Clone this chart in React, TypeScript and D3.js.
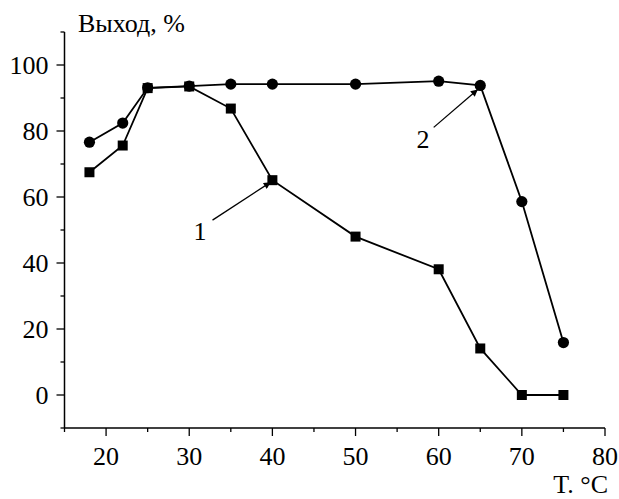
import * as d3 from 'd3';

// temperature, °C
const temps = [18, 22, 25, 30, 35, 40, 50, 60, 65, 70, 75];
// curve 1 (squares), yield %
const yield1 = [67.5, 75.6, 93, 93.5, 86.8, 65.1, 48, 38.1, 14.1, 0, 0];
// curve 2 (circles), yield %
const yield2 = [76.6, 82.4, 93.1, 93.6, 94.2, 94.2, 94.2, 95.1, 93.8, 58.6, 15.9];

const xMajor = [20, 30, 40, 50, 60, 70, 80];
const xMinor = [15, 25, 35, 45, 55, 65, 75];
const yMajor = [0, 20, 40, 60, 80, 100];
const yMinor = [-10, 10, 30, 50, 70, 90, 110];

// curve labels: [label, text x, text y, arrow from x, y, arrow to x, y] in data units
const callouts: [string, number, number, number, number, number, number][] = [
    ['1', 31.3, 47, 32.8, 53, 39.8, 64.5],
    ['2', 58.1, 74.8, 59.4, 81.1, 64.7, 92.6],
];

const W = 619;
const H = 499;
const FONT = '"Liberation Serif", "Times New Roman", serif';

export default function App() {
    const x = d3.scaleLinear().domain([15, 80]).range([64.5, 605]);
    const y = d3.scaleLinear().domain([-10, 110]).range([428, 32]);

    const line = d3.line<[number, number]>()
        .x(d => x(d[0]))
        .y(d => y(d[1]));

    const pts1 = temps.map((t, i) => [t, yield1[i]] as [number, number]);
    const pts2 = temps.map((t, i) => [t, yield2[i]] as [number, number]);

    return (
        <svg width={W} height={H} style={{ position: 'absolute', left: 0, top: 0, background: '#fff' }}
            fontFamily={FONT}>
            <defs>
                <marker id="arr" viewBox="0 0 10 10" refX="10" refY="5" markerWidth="11" markerHeight="7"
                    orient="auto" markerUnits="userSpaceOnUse">
                    <path d="M0,0 L10,5 L0,10 z" fill="#000" />
                </marker>
            </defs>

            {/* axes */}
            <line x1={x(15)} x2={x(15)} y1={y(110)} y2={y(-10)} stroke="#000" strokeWidth={1.5} />
            <line x1={x(15)} x2={x(80)} y1={y(-10)} y2={y(-10)} stroke="#000" strokeWidth={1.5} />

            {yMajor.map(v => (
                <g key={'ym' + v}>
                    <line x1={x(15) - 8} x2={x(15)} y1={y(v)} y2={y(v)} stroke="#000" strokeWidth={1.3} />
                    <text x={x(15) - 16} y={y(v)} dy="0.34em" textAnchor="end" fontSize={26}>{v}</text>
                </g>
            ))}
            {yMinor.map(v => (
                <line key={'yn' + v} x1={x(15) - 4} x2={x(15)} y1={y(v)} y2={y(v)} stroke="#000" strokeWidth={1.3} />
            ))}
            {xMajor.map(v => (
                <g key={'xm' + v}>
                    <line x1={x(v)} x2={x(v)} y1={y(-10)} y2={y(-10) + 8} stroke="#000" strokeWidth={1.3} />
                    <text x={x(v)} y={465} textAnchor="middle" fontSize={26}>{v}</text>
                </g>
            ))}
            {xMinor.map(v => (
                <line key={'xn' + v} x1={x(v)} x2={x(v)} y1={y(-10)} y2={y(-10) + 4} stroke="#000" strokeWidth={1.3} />
            ))}

            <text x={78} y={32} fontSize={26}>Выход, %</text>
            <text x={608} y={493} textAnchor="end" fontSize={26}>T. °C</text>

            {/* curves */}
            <path d={line(pts1) ?? ''} fill="none" stroke="#000" strokeWidth={1.8} />
            <path d={line(pts2) ?? ''} fill="none" stroke="#000" strokeWidth={1.8} />
            {pts1.map((p, i) => (
                <rect key={'s' + i} x={x(p[0]) - 5} y={y(p[1]) - 5} width={10} height={10} fill="#000" />
            ))}
            {pts2.map((p, i) => (
                <circle key={'c' + i} cx={x(p[0])} cy={y(p[1])} r={5.6} fill="#000" />
            ))}

            {/* callouts */}
            {callouts.map(([lab, tx, ty, ax, ay, bx, by]) => (
                <g key={'l' + lab}>
                    <line x1={x(ax)} y1={y(ay)} x2={x(bx)} y2={y(by)} stroke="#000" strokeWidth={1.3}
                        markerEnd="url(#arr)" />
                    <text x={x(tx)} y={y(ty)} textAnchor="middle" fontSize={26}>{lab}</text>
                </g>
            ))}
        </svg>
    );
}
